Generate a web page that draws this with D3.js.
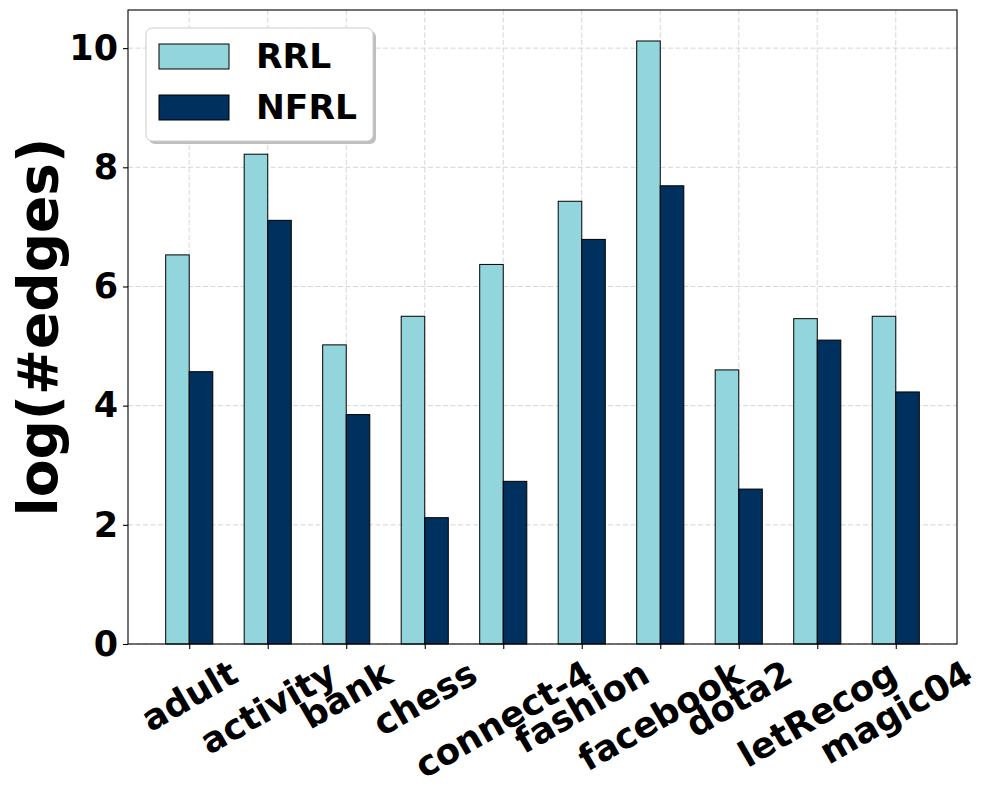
<!DOCTYPE html>
<html>
<head>
<meta charset="utf-8">
<script src="https://cdn.jsdelivr.net/npm/d3@7"></script>
<style>
  html, body { margin: 0; padding: 0; background: #fff; }
  svg { display: block; font-family: "DejaVu Sans", sans-serif; }
</style>
</head>
<body>
<svg id="chart" width="985" height="790"></svg>
<script>
const categories = ["adult", "activity", "bank", "chess", "connect-4", "fashion", "facebook", "dota2", "letRecog", "magic04"];
const rrlValues  = [6.53, 8.22, 5.02, 5.50, 6.37, 7.43, 10.12, 4.60, 5.46, 5.50];
const nfrlValues = [4.57, 7.11, 3.85, 2.12, 2.73, 6.79, 7.69, 2.60, 5.10, 4.23];
const seriesNames = ["RRL", "NFRL"];
const yTicks = [0, 2, 4, 6, 8, 10];

const colors = { RRL: "#93d5dc", NFRL: "#00305d" };
const barWidth = 0.3;

const svg = d3.select("#chart");
const margin = { left: 128, right: 957, top: 10, bottom: 644 };

const x = d3.scaleLinear().domain([-0.78, 9.78]).range([margin.left, margin.right]);
const y = d3.scaleLinear().domain([0, 10.64]).range([margin.bottom, margin.top]);

// grid
const grid = svg.append("g");
grid.selectAll("line.gx").data(categories.map((d, i) => i)).enter().append("line")
  .attr("x1", d => x(d)).attr("x2", d => x(d))
  .attr("y1", margin.top).attr("y2", margin.bottom)
  .attr("stroke", "#cccccc").attr("stroke-width", 0.8).attr("stroke-dasharray", "5,2.5");
grid.selectAll("line.gy").data(yTicks).enter().append("line")
  .attr("x1", margin.left).attr("x2", margin.right)
  .attr("y1", d => y(d)).attr("y2", d => y(d))
  .attr("stroke", "#cccccc").attr("stroke-width", 0.8).attr("stroke-dasharray", "5,2.5");

// bars
const bars = svg.append("g");
bars.selectAll("rect.rrl").data(rrlValues).enter().append("rect")
  .attr("x", (d, i) => x(i - barWidth))
  .attr("width", (d, i) => x(i) - x(i - barWidth))
  .attr("y", d => y(d))
  .attr("height", d => y(0) - y(d))
  .attr("fill", colors.RRL).attr("stroke", "#000").attr("stroke-width", 1);
bars.selectAll("rect.nfrl").data(nfrlValues).enter().append("rect")
  .attr("x", (d, i) => x(i))
  .attr("width", (d, i) => x(i + barWidth) - x(i))
  .attr("y", d => y(d))
  .attr("height", d => y(0) - y(d))
  .attr("fill", colors.NFRL).attr("stroke", "#000").attr("stroke-width", 1);

// frame
svg.append("rect")
  .attr("x", margin.left).attr("y", margin.top)
  .attr("width", margin.right - margin.left).attr("height", margin.bottom - margin.top)
  .attr("fill", "none").attr("stroke", "#000").attr("stroke-width", 1.1);

// y axis
const yAxis = d3.axisLeft(y).tickValues(yTicks).tickSize(5).tickPadding(5).tickFormat(d3.format("d"));
const gy = svg.append("g").attr("transform", `translate(${margin.left},0)`).call(yAxis);
gy.select(".domain").remove();
gy.selectAll(".tick line").attr("stroke", "#000").attr("stroke-width", 1.1);
gy.selectAll(".tick text").attr("font-size", 35).attr("font-weight", "bold")
  .attr("font-family", "DejaVu Sans").attr("fill", "#000");

// x axis
const xAxis = d3.axisBottom(x).tickValues(categories.map((d, i) => i)).tickSize(5).tickFormat("");
const gx = svg.append("g").attr("transform", `translate(0,${margin.bottom})`).call(xAxis);
gx.select(".domain").remove();
gx.selectAll(".tick line").attr("stroke", "#000").attr("stroke-width", 1.1);

// rotated x labels (matplotlib style: rotated bbox centered on tick, top aligned)
const labelTop = margin.bottom + 8;
const ang = 30 * Math.PI / 180;
const xl = svg.append("g");
categories.forEach((name, i) => {
  const t = xl.append("text")
    .attr("font-size", 35.5).attr("font-weight", "bold")
    .attr("font-family", "DejaVu Sans")
    .attr("text-anchor", "middle")
    .text(name);
  const bb = t.node().getBBox();
  const w = bb.width, h = bb.height;
  const H = w * Math.sin(ang) + h * Math.cos(ang);
  const dy = -(bb.y + bb.height / 2);
  t.attr("y", dy)
   .attr("transform", `translate(${x(i)},${labelTop + H / 2}) rotate(-30)`);
});

// y label
svg.append("text")
  .attr("transform", `translate(57,${(margin.top + margin.bottom) / 2}) rotate(-90)`)
  .attr("text-anchor", "middle")
  .attr("font-size", 55).attr("font-weight", "bold")
  .attr("font-family", "DejaVu Sans")
  .text("log(#edges)");

// legend
const lg = svg.append("g");
const lx = 146, ly = 28, lw = 227, lh = 113;
lg.append("rect").attr("x", lx + 3).attr("y", ly + 3).attr("width", lw).attr("height", lh)
  .attr("rx", 6).attr("fill", "#808080").attr("opacity", 0.5);
lg.append("rect").attr("x", lx).attr("y", ly).attr("width", lw).attr("height", lh)
  .attr("rx", 6).attr("fill", "#fff").attr("stroke", "#cccccc").attr("stroke-width", 1);
seriesNames.forEach((s, k) => {
  const yy = 44 + k * 51;
  lg.append("rect").attr("x", 159).attr("y", yy).attr("width", 70).attr("height", 25)
    .attr("fill", colors[s]).attr("stroke", "#000").attr("stroke-width", 1);
  lg.append("text").attr("x", 256).attr("y", yy + 23.5)
    .attr("font-size", 34.5).attr("font-weight", "bold")
    .attr("font-family", "DejaVu Sans")
    .text(s);
});
</script>
</body>
</html>
